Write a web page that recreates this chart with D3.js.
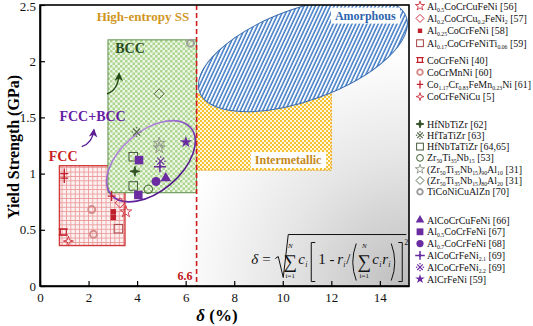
<!DOCTYPE html>
<html>
<head>
<meta charset="utf-8">
<script src="https://cdn.jsdelivr.net/npm/d3@7"></script>
<style>
	body { margin: 0; background: #fff; }
	svg, svg text { font-family: "Liberation Serif", "Times New Roman", serif; }
</style>
</head>
<body>
<svg id="chart" width="533" height="326" font-family="Liberation Serif"></svg>
<script>
/* Yield strength vs atomic size difference, HEA phase map */

// ---- data ----
var xTicks = [0, 2, 4, 6, 8, 10, 12, 14];
var yTicks = [0, 0.5, 1, 1.5, 2, 2.5];

var seriesLabels = [
	"Al_{0.5}CoCrCuFeNi [56]",
	"Al_{0.2}CoCrCu_{0.2}FeNi_{2} [57]",
	"Al_{0.25}CoCrFeNi [58]",
	"Al_{0.17}CoCrFeNiTi_{0.06} [59]",
	"CoCrFeNi [40]",
	"CoCrMnNi [60]",
	"Co_{1.17}Cr_{0.83}FeMn_{0.23}Ni [61]",
	"CoCrFeNiCu [5]",
	"HfNbTiZr [62]",
	"HfTaTiZr [63]",
	"HfNbTaTiZr [64,65]",
	"Zr_{50}Ti_{35}Nb_{15} [53]",
	"(Zr_{50}Ti_{35}Nb_{15})_{90}Al_{10} [31]",
	"(Zr_{50}Ti_{35}Nb_{15})_{80}Al_{20} [31]",
	"TiCoNiCuAlZn [70]",
	"AlCoCrCuFeNi [66]",
	"Al_{0.5}CoCrFeNi [67]",
	"Al_{0.7}CoCrFeNi [68]",
	"AlCoCrFeNi_{2.1} [69]",
	"AlCoCrFeNi_{2.2} [69]",
	"AlCrFeNi [59]"
];
var seriesMarker = ["star", "diamond", "dot", "square", "notch", "ring", "plus", "star4",
	"star4F", "asterisk", "square", "circle", "star", "diamond", "ring",
	"triangleF", "squareF", "circleF", "plusThin", "asterisk", "starF"];
var seriesColor = ["#cc3340", "#cc3340", "#c0202c", "#a84448", "#c0202c", "#d58a8a", "#c0202c", "#cc3340",
	"#2f4f22", "#55684a", "#4a5e40", "#3d5e2c", "#8a9284", "#5e6e54", "#9c9c9c",
	"#6a2ca0", "#6a2ca0", "#6a2ca0", "#6a2ca0", "#6a2ca0", "#6a2ca0"];

// points: series index, delta (%), yield strength (GPa)
var pointSeries = [0, 1, 2, 2, 3, 4, 5, 5, 6, 6, 6, 7,
	8, 9, 10, 10, 11, 12, 12, 13, 14,
	15, 16, 16, 17, 18, 19, 20];
var pointX = [3.54, 3.30, 3.02, 3.02, 3.23, 0.96, 2.13, 2.20, 1.00, 1.00, 2.95, 1.17,
	3.91, 3.98, 3.84, 3.84, 4.46, 4.91, 4.91, 4.91, 6.20,
	5.18, 4.08, 4.05, 4.78, 4.94, 4.97, 6.01];
var pointY = [0.66, 0.74, 0.61, 0.66, 0.51, 0.48, 0.68, 0.46, 1.00, 0.96, 0.80, 0.40,
	1.02, 1.37, 1.15, 0.89, 0.86, 1.23, 1.27, 1.71, 2.16,
	0.96, 1.12, 0.81, 0.93, 1.06, 1.11, 1.28];

// phase regions [x0, x1, y0, y1]
var fccBox = [0.8, 3.5, 0.36, 1.07];
var bccBox = [2.8, 6.45, 0.83, 2.19];
var imBox = [6.45, 12.0, 1.03, 1.71];
var dividerX = 6.45;

// ---- layout ----
var x = d3.scaleLinear().domain([0, 15.2]).range([40, 409]);
var y = d3.scaleLinear().domain([0, 2.5]).range([286, 5]);

var svg = d3.select("#chart");
var defs = svg.append("defs");

defs.append("clipPath").attr("id", "plotClip")
	.append("rect").attr("x", 40).attr("y", 5).attr("width", 369).attr("height", 281);

var bg = defs.append("radialGradient").attr("id", "bgGrad")
	.attr("gradientUnits", "userSpaceOnUse")
	.attr("cx", 409).attr("cy", 286).attr("r", 235);
bg.append("stop").attr("offset", 0).attr("stop-color", "#bdbdbd");
bg.append("stop").attr("offset", 0.55).attr("stop-color", "#e6e6e6");
bg.append("stop").attr("offset", 1).attr("stop-color", "#ffffff");

var fccPat = defs.append("pattern").attr("id", "fccGrid")
	.attr("patternUnits", "userSpaceOnUse").attr("width", 4.4).attr("height", 4.4);
fccPat.append("rect").attr("width", 4.4).attr("height", 4.4).attr("fill", "#fdf0f0");
fccPat.append("path").attr("d", "M0,0.4H4.4M0.4,0V4.4").attr("stroke", "#ea9a9a").attr("stroke-width", 0.9);

var bccPat = defs.append("pattern").attr("id", "bccCheck")
	.attr("patternUnits", "userSpaceOnUse").attr("width", 5).attr("height", 5);
bccPat.append("rect").attr("width", 5).attr("height", 5).attr("fill", "#eef7e8");
bccPat.append("rect").attr("width", 2.5).attr("height", 2.5).attr("fill", "#acd58f");
bccPat.append("rect").attr("x", 2.5).attr("y", 2.5).attr("width", 2.5).attr("height", 2.5).attr("fill", "#acd58f");

var imPat = defs.append("pattern").attr("id", "imCheck")
	.attr("patternUnits", "userSpaceOnUse").attr("width", 4).attr("height", 4);
imPat.append("rect").attr("width", 4).attr("height", 4).attr("fill", "#fff8e0");
imPat.append("rect").attr("width", 2).attr("height", 2).attr("fill", "#f6c12e");
imPat.append("rect").attr("x", 2).attr("y", 2).attr("width", 2).attr("height", 2).attr("fill", "#f6c12e");

var amPat = defs.append("pattern").attr("id", "amHatch")
	.attr("patternUnits", "userSpaceOnUse").attr("width", 3.4).attr("height", 3.4)
	.attr("patternTransform", "rotate(45)");
amPat.append("rect").attr("width", 3.4).attr("height", 3.4).attr("fill", "#ffffff");
amPat.append("line").attr("x1", 1).attr("y1", 0).attr("x2", 1).attr("y2", 3.4)
	.attr("stroke", "#3b78c4").attr("stroke-width", 1.5);

var ellGrad = defs.append("linearGradient").attr("id", "ellGrad")
	.attr("x1", 0).attr("y1", 0).attr("x2", 0).attr("y2", 1);
ellGrad.append("stop").attr("offset", 0).attr("stop-color", "#b48ae0");
ellGrad.append("stop").attr("offset", 0.55).attr("stop-color", "#7a3cb8");
ellGrad.append("stop").attr("offset", 1).attr("stop-color", "#4e1488");

function arrowDef(id, color) {
	defs.append("marker").attr("id", id)
		.attr("viewBox", "0 0 8 8").attr("refX", 6).attr("refY", 4)
		.attr("markerWidth", 7).attr("markerHeight", 7).attr("orient", "auto")
	  .append("path").attr("d", "M0,0.5L7,4L0,7.5L2,4Z").attr("fill", color);
}
arrowDef("arrGreen", "#234a16");
arrowDef("arrPurple", "#5b1c94");

// background gradient
svg.append("rect").attr("x", 40).attr("y", 5).attr("width", 369).attr("height", 281)
	.attr("fill", "url(#bgGrad)");

var plot = svg.append("g").attr("clip-path", "url(#plotClip)");

function boxRect(b, fill, stroke, sw, dash) {
	plot.append("rect")
		.attr("x", x(b[0])).attr("y", y(b[3]))
		.attr("width", x(b[1]) - x(b[0])).attr("height", y(b[2]) - y(b[3]))
		.attr("fill", fill).attr("stroke", stroke).attr("stroke-width", sw)
		.attr("stroke-dasharray", dash || null);
}
boxRect(fccBox, "url(#fccGrid)", "#d23a3a", 1.4);
boxRect(bccBox, "url(#bccCheck)", "#5f8f4c", 1);
boxRect(imBox, "url(#imCheck)", "#e5a41a", 1, "2,1.2");

// ellipse: centre in data units, radii in x units
function ellipse(cx, cy, rx, ry, rot) {
	var px = x(cx), py = y(cy);
	var rxp = x(rx) - x(0), ryp = x(ry) - x(0);
	return plot.append("g").attr("transform", "translate(" + px + "," + py + ") rotate(" + rot + ")")
	  .append("ellipse").attr("rx", rxp).attr("ry", ryp);
}
ellipse(10.83, 2.06, 4.53, 1.89, -20)
	.attr("fill", "url(#amHatch)").attr("stroke", "#3a6db0").attr("stroke-width", 1);

// label boxes
function boxedLabel(txt, cx, cy, color, size) {
	var t = plot.append("text").attr("x", x(cx)).attr("y", y(cy))
		.attr("text-anchor", "middle").attr("font-weight", "bold")
		.attr("font-size", size).attr("fill", color).text(txt);
	var bb = t.node().getBBox();
	plot.insert("rect", function() { return t.node(); })
		.attr("x", bb.x - 4).attr("y", bb.y - 1).attr("width", bb.width + 8).attr("height", bb.height + 2)
		.attr("fill", "#fff");
}
boxedLabel("Amorphous", 13.4, 2.37, "#2c64ad", 12);
boxedLabel("Intermetallic", 10.22, 1.085, "#c4891c", 12);

// divider
plot.append("line")
	.attr("x1", x(dividerX)).attr("x2", x(dividerX)).attr("y1", y(2.5)).attr("y2", y(0))
	.attr("stroke", "#d41c1c").attr("stroke-width", 1.6).attr("stroke-dasharray", "5,3");

// region labels
function label(txt, xv, yv, color, size, anchor) {
	svg.append("text").attr("x", x(xv)).attr("y", y(yv))
		.attr("text-anchor", anchor || "start").attr("font-weight", "bold")
		.attr("font-size", size).attr("fill", color).text(txt);
}
label("High-entropy SS", 4.24, 2.36, "#d0961f", 13, "middle");
label("BCC", 3.1, 2.07, "#2a4f1e", 14);
label("FCC+BCC", 0.8, 1.465, "#6420a6", 14);
label("FCC", 0.36, 1.11, "#c81e24", 14);
label("6.6", 6.28, 0.055, "#c01818", 12, "end");

// curved arrows
function curveArrow(p0, c, p1, color, mk) {
	svg.append("path")
		.attr("d", "M" + x(p0[0]) + "," + y(p0[1]) + "Q" + x(c[0]) + "," + y(c[1]) + " " + x(p1[0]) + "," + y(p1[1]))
		.attr("fill", "none").attr("stroke", color).attr("stroke-width", 1.4)
		.attr("marker-end", "url(#" + mk + ")");
}
curveArrow([2.76, 1.71], [3.22, 1.74], [3.26, 1.89], "#234a16", "arrGreen");
curveArrow([1.72, 1.24], [2.16, 1.27], [2.22, 1.39], "#5b1c94", "arrPurple");

// FCC+BCC ellipse
ellipse(4.57, 1.11, 2.14, 1.24, -40)
	.attr("fill", "none").attr("stroke", "url(#ellGrad)").attr("stroke-width", 1.6);

// ---- markers ----
function marker(g, type, color, s) {
	var h = s / 2;
	switch (type) {
	case "star":
		g.append("path").attr("d", d3.symbol(d3.symbolStar, s * s * 0.42)())
			.attr("fill", "none").attr("stroke", color).attr("stroke-width", 0.9);
		break;
	case "starF":
		g.append("path").attr("d", d3.symbol(d3.symbolStar, s * s * 0.45)()).attr("fill", color);
		break;
	case "diamond":
		g.append("path").attr("d", "M0," + (-h) + "L" + h + ",0L0," + h + "L" + (-h) + ",0Z")
			.attr("fill", "none").attr("stroke", color).attr("stroke-width", 1);
		break;
	case "dot":
		g.append("rect").attr("x", -h * 0.55).attr("y", -h * 0.55).attr("width", h * 1.1).attr("height", h * 1.1)
			.attr("fill", color);
		break;
	case "square":
		g.append("rect").attr("x", -h * 0.85).attr("y", -h * 0.85).attr("width", h * 1.7).attr("height", h * 1.7)
			.attr("fill", "none").attr("stroke", color).attr("stroke-width", 1);
		break;
	case "squareF":
		g.append("rect").attr("x", -h * 0.85).attr("y", -h * 0.85).attr("width", h * 1.7).attr("height", h * 1.7)
			.attr("fill", color);
		break;
	case "notch":
		var a = h * 0.6, b = h * 0.95;
		g.append("rect").attr("x", -a).attr("y", -a).attr("width", 2 * a).attr("height", 2 * a)
			.attr("fill", "none").attr("stroke", color).attr("stroke-width", 1.2);
		g.append("path").attr("d", "M" + (-b) + "," + (-a) + "H" + b + "M" + (-b) + "," + a + "H" + b)
			.attr("stroke", color).attr("stroke-width", 1);
		break;
	case "ring":
		g.append("circle").attr("r", h * 0.7).attr("fill", "none").attr("stroke", color).attr("stroke-width", 1.9);
		break;
	case "circle":
		g.append("circle").attr("r", h * 0.85).attr("fill", "none").attr("stroke", color).attr("stroke-width", 1);
		break;
	case "circleF":
		g.append("circle").attr("r", h * 0.9).attr("fill", color);
		break;
	case "triangleF":
		g.append("path").attr("d", d3.symbol(d3.symbolTriangle, s * s * 0.5)()).attr("fill", color);
		break;
	case "plus":
		g.append("path").attr("d", "M" + (-h * 0.8) + ",0H" + (h * 0.8) + "M0," + (-h) + "V" + h)
			.attr("stroke", color).attr("stroke-width", 1.3);
		break;
	case "plusThin":
		g.append("path").attr("d", "M" + (-h * 1.2) + ",0H" + (h * 1.2) + "M0," + (-h * 1.1) + "V" + (h * 1.1))
			.attr("stroke", color).attr("stroke-width", 1.5);
		g.append("circle").attr("r", 1.3).attr("fill", color);
		break;
	case "star4":
	case "star4F":
		var o = h, i = h * 0.22;
		g.append("path").attr("d", "M0," + (-o) + "L" + i + "," + (-i) + "L" + o + ",0L" + i + "," + i +
			"L0," + o + "L" + (-i) + "," + i + "L" + (-o) + ",0L" + (-i) + "," + (-i) + "Z")
			.attr("fill", type === "star4F" ? color : "none").attr("stroke", color).attr("stroke-width", 0.9);
		break;
	case "asterisk":
		var k = h * 0.7;
		g.append("path").attr("d", "M" + (-k) + "," + (-k) + "L" + k + "," + k + "M" + k + "," + (-k) + "L" + (-k) + "," + k)
			.attr("stroke", color).attr("stroke-width", 1.1);
		[[0, -h], [h, 0], [0, h], [-h, 0]].forEach(function(p) {
			g.append("circle").attr("cx", p[0] * 0.85).attr("cy", p[1] * 0.85).attr("r", 0.8).attr("fill", color);
		});
		break;
	}
}

var pts = svg.append("g");
pointSeries.forEach(function(si, k) {
	var g = pts.append("g").attr("transform", "translate(" + x(pointX[k]) + "," + y(pointY[k]) + ")");
	marker(g, seriesMarker[si], seriesColor[si], 10);
});

// ---- axes and frame ----
var xAxis = d3.axisBottom(x).tickValues(xTicks).tickSizeInner(-5).tickSizeOuter(0).tickPadding(7)
	.tickFormat(d3.format("d"));
var yAxis = d3.axisLeft(y).tickValues(yTicks).tickSizeInner(-5).tickSizeOuter(0).tickPadding(4)
	.tickFormat(function(d) { return d; });

var gx = svg.append("g").attr("transform", "translate(0," + y(0) + ")").call(xAxis);
var gy = svg.append("g").attr("transform", "translate(" + x(0) + ",0)").call(yAxis);
[gx, gy].forEach(function(g) {
	g.attr("font-family", "Liberation Serif").attr("font-size", 13);
	g.selectAll("text").attr("fill", "#111");
	g.selectAll("line").attr("stroke", "#000").attr("stroke-width", 1.2);
	g.select(".domain").attr("stroke", "#000").attr("stroke-width", 1.6);
});
gy.selectAll(".tick text").filter(function(d) { return d === 2.5; }).attr("dy", "0.45em");

svg.append("rect").attr("x", 40).attr("y", 5).attr("width", 369).attr("height", 281)
	.attr("fill", "none").attr("stroke", "#000").attr("stroke-width", 1.6);

// axis titles
var xt = svg.append("text").attr("x", 217).attr("y", 321).attr("text-anchor", "middle")
	.attr("font-size", 17).attr("font-weight", "bold");
xt.append("tspan").attr("font-style", "italic").text("δ");
xt.append("tspan").text(" (%)");

svg.append("text").attr("transform", "translate(19,147) rotate(-90)")
	.attr("text-anchor", "middle").attr("font-size", 16).attr("font-weight", "bold")
	.text("Yield Strength (GPa)");

// ---- formula ----
var fx = x(8.62), fy = y(0.2);
var fg = svg.append("g").attr("transform", "translate(" + fx + "," + fy + ")").attr("fill", "#111");
function ft(txt, dx, dy, size, italic, anchor) {
	fg.append("text").attr("x", dx).attr("y", dy).attr("font-size", size)
		.attr("font-style", italic ? "italic" : null).attr("text-anchor", anchor || "start").text(txt);
}
ft("δ", 2, 0, 15, true);
ft("=", 13, 0, 15);
fg.append("path").attr("d", "M26,-5L29,-7L34,14L39,-29H157")
	.attr("fill", "none").attr("stroke", "#111").attr("stroke-width", 1);
ft("∑", 41, 4, 19, false, "middle");
ft("N", 41, -16, 7, true, "middle");
ft("i=1", 41, 14, 7, false, "middle");
ft("c", 49, 0, 15, true);
ft("i", 56, 3, 8, true);
fg.append("path").attr("d", "M66,-21H62V18H66").attr("fill", "none").attr("stroke", "#111");
ft("1 - ", 69, 0, 15);
ft("r", 88, 0, 15, true);
ft("i", 94, 3, 8, true);
ft("/", 97, 0, 15);
fg.append("path").attr("d", "M107,-20Q100,-1 107,17").attr("fill", "none").attr("stroke", "#111");
ft("∑", 115, 4, 19, false, "middle");
ft("N", 115, -16, 7, true, "middle");
ft("i=1", 115, 14, 7, false, "middle");
ft("c", 123, 0, 15, true);
ft("i", 130, 3, 8, true);
ft("r", 133, 0, 15, true);
ft("i", 139, 3, 8, true);
fg.append("path").attr("d", "M142,-20Q149,-1 142,17").attr("fill", "none").attr("stroke", "#111");
fg.append("path").attr("d", "M149,-21H153V18H149").attr("fill", "none").attr("stroke", "#111");
ft("2", 155, -19, 8);

// ---- legend ----
var legendTop = [6, 60, 124, 220];
var legendStep = [12.4, 12.2, 11.3, 11.8];
var legendFirst = [0, 4, 8, 15];

function richText(t, str) {
	var shifted = false;
	str.split(/(_\{[^}]*\})/).forEach(function(part) {
		if (!part) return;
		if (part.indexOf("_{") === 0) {
			t.append("tspan").attr("font-size", 5.8).attr("dy", shifted ? 0 : 2).text(part.slice(2, -1));
			shifted = true;
		} else {
			t.append("tspan").attr("dy", shifted ? -2 : 0).text(part);
			shifted = false;
		}
	});
}

var lg = svg.append("g");
seriesLabels.forEach(function(lab, i) {
	var grp = 0;
	for (var j = 0; j < legendFirst.length; j++) if (i >= legendFirst[j]) grp = j;
	var ry = legendTop[grp] + (i - legendFirst[grp]) * legendStep[grp];
	var m = lg.append("g").attr("transform", "translate(420," + ry + ")");
	marker(m, seriesMarker[i], seriesColor[i], 8);
	var t = lg.append("text").attr("x", 427).attr("y", ry + 3.5).attr("font-size", 10).attr("fill", "#111");
	richText(t, lab);
	var w = t.node().getComputedTextLength();
	if (427 + w > 531) t.attr("textLength", 531 - 427).attr("lengthAdjust", "spacingAndGlyphs");
});
</script>
</body>
</html>
